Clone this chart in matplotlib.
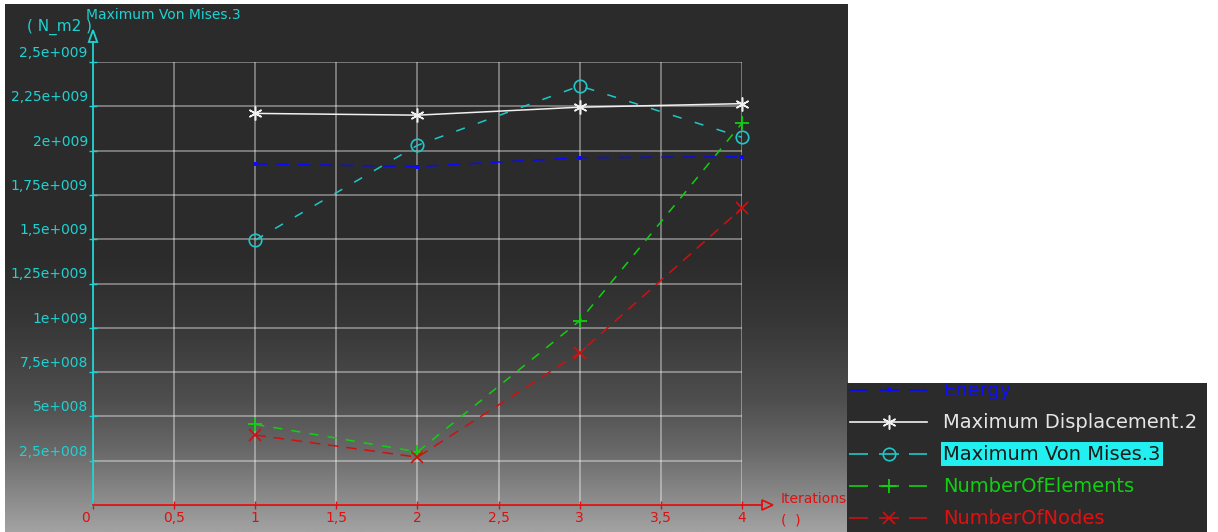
import numpy as np
import matplotlib
matplotlib.use("Agg")
import matplotlib.pyplot as plt
from matplotlib.patches import Polygon, Rectangle
from matplotlib.transforms import ScaledTranslation, blended_transform_factory

# ---- data -------------------------------------------------------------
iterations = [1, 2, 3, 4]
energy = [1.925e9, 1.91e9, 1.96e9, 1.965e9]
max_displacement = [2.21e9, 2.20e9, 2.245e9, 2.265e9]
max_von_mises = [1.495e9, 2.03e9, 2.365e9, 2.075e9]
number_of_elements = [4.55e8, 3.0e8, 1.04e9, 2.155e9]
number_of_nodes = [3.95e8, 2.7e8, 8.6e8, 1.675e9]

series_names = ["Energy", "Maximum Displacement.2", "Maximum Von Mises.3",
                "NumberOfElements", "NumberOfNodes"]
x_ticks = [0, 0.5, 1, 1.5, 2, 2.5, 3, 3.5, 4]
y_ticks = [2.5e8, 5e8, 7.5e8, 1e9, 1.25e9, 1.5e9, 1.75e9, 2e9, 2.25e9, 2.5e9]
y_title = "Maximum Von Mises.3"
y_unit = "( N_m2 )"
x_title = "Iterations"
x_unit = "(  )"

W, H = 1218, 532
fig = plt.figure(figsize=(W / 100, H / 100), dpi=100, facecolor="white")
plt.rcParams["font.family"] = ["DejaVu Sans"]

# ---- background panel with bottom gradient -----------------------------
bg = fig.add_axes([0, 0, 1, 1])
bg.set_xlim(0, W)
bg.set_ylim(H, 0)
bg.axis("off")
rows = np.arange(4, H + 1)
stops_y = [4, 260, 320, 400, 450, 490, 532]
stops_v = [0x2b, 0x2c, 0x36, 0x4e, 0x68, 0x85, 0xa3]
vals = np.interp(rows, stops_y, stops_v) / 255.0
grad = np.repeat(vals[:, None], 2, axis=1)
grad = np.dstack([grad, grad, grad])
bg.imshow(grad, extent=(5, 848, H, 4), aspect="auto", interpolation="bilinear", zorder=0)
bg.add_patch(Rectangle((847, 383), 360, 149, facecolor="#2b2b2b", edgecolor="none", zorder=1))

# ---- main plot --------------------------------------------------------
x0, x1, y0, y1 = 93, 742, 505, 62
ax = fig.add_axes([x0 / W, (H - y0) / H, (x1 - x0) / W, (y0 - y1) / H])
ax.set_facecolor("none")
ax.set_xlim(0, 4)
ax.set_ylim(0, 2.5e9)
for s in ["top", "right"]:
    ax.spines[s].set_visible(False)
ax.spines["left"].set_color("#1ed2d2")
ax.spines["bottom"].set_color("#e01010")
ax.spines["left"].set_linewidth(1.3)
ax.spines["bottom"].set_linewidth(1.3)
ax.set_xticks(x_ticks)
ax.set_yticks([0] + y_ticks)
ax.tick_params(axis="x", colors="#e01010", direction="inout", length=6, width=1, labelbottom=False)
ax.tick_params(axis="y", colors="#1ed2d2", direction="inout", length=6, width=1, labelleft=False)
ax.grid(True, color="white", alpha=0.4, linewidth=1.3)
ax.set_axisbelow(True)

# axis extensions and open arrow heads
ax.plot([4, 4.123], [0, 0], color="#e01010", lw=1.3, clip_on=False)
ax.add_patch(Polygon([[4.123, -0.028e9], [4.19, 0], [4.123, 0.028e9]], closed=True,
                     fill=False, edgecolor="#e01010", lw=1.3, clip_on=False))
ax.plot([0, 0], [2.5e9, 2.613e9], color="#1ed2d2", lw=1.3, clip_on=False)
ax.add_patch(Polygon([[-0.026, 2.613e9], [0, 2.68e9], [0.026, 2.613e9]], closed=True,
                     fill=False, edgecolor="#1ed2d2", lw=1.3, clip_on=False))


def sci_label(v):
    exp = int(np.floor(np.log10(v)))
    mant = v / 10 ** exp
    m = ("%.2f" % mant).rstrip("0").rstrip(".").replace(".", ",")
    return "%se+%03d" % (m, exp)


def dec_label(v):
    return ("%g" % v).replace(".", ",")


ytrans = blended_transform_factory(ax.transAxes, ax.transData)
for v in y_ticks:
    ax.text(-0.008, v, sci_label(v), color="#1ed2d2", fontsize=10, ha="right", va="center",
            transform=ytrans + ScaledTranslation(0, 9 / 100, fig.dpi_scale_trans))

xtrans = blended_transform_factory(ax.transData, ax.transAxes)
for v in x_ticks:
    dx = -8 / 100 if v == 0 else 0
    ax.text(v, 0, dec_label(v), color="#e01010", fontsize=10, ha="center", va="center",
            transform=xtrans + ScaledTranslation(dx, -13 / 100, fig.dpi_scale_trans))

fig.text(86 / W, 1 - 15 / H, y_title, color="#1ed2d2", fontsize=10, ha="left", va="center")
fig.text(92 / W, 1 - 27 / H, y_unit, color="#1ed2d2", fontsize=11, ha="right", va="center")
fig.text(781 / W, 1 - 499 / H, x_title, color="#e01010", fontsize=10, ha="left", va="center")
fig.text(781 / W, 1 - 520 / H, x_unit, color="#e01010", fontsize=10, ha="left", va="center")

# ---- series ------------------------------------------------------------
asterisk = (6, 2, 0)
styles = [
    dict(color="#0a0aff", ls=(0, (8, 6)), marker="s", ms=3.5, mfc="#0a0aff", mew=0),
    dict(color="#f0f0f0", ls="-", marker=asterisk, ms=10, mew=1.1),
    dict(color="#1ec8c8", ls=(0, (6, 9)), marker="o", ms=9, mfc="none", mew=1.2),
    dict(color="#10d010", ls=(0, (6, 6)), marker="+", ms=10, mew=1.3),
    dict(color="#d01010", ls=(0, (7, 5)), marker="x", ms=9, mew=1.2),
]
series = [energy, max_displacement, max_von_mises, number_of_elements, number_of_nodes]
for vals_s, st in zip(series, styles):
    ax.plot(iterations, vals_s, lw=1.1, clip_on=False, zorder=3, **st)

# ---- legend ------------------------------------------------------------
lg = fig.add_axes([847 / W, 0, 360 / W, 149 / H])
lg.set_xlim(0, 360)
lg.set_ylim(149, 0)
lg.axis("off")
text_colors = ["#1010f0", "#e6e6e6", "#1a1a1a", "#10d010", "#e01010"]
for i, (name, st, tc) in enumerate(zip(series_names, styles, text_colors)):
    yc = 7 + 32 * i
    st2 = dict(st)
    mk = st2.pop("marker")
    ms = st2.pop("ms")
    mfc = st2.pop("mfc", None)
    mew = st2.pop("mew")
    if st2["ls"] == "-":
        lg.plot([3, 80], [yc, yc], lw=1.2, color=st2["color"])
    else:
        for a, b in [(2, 21), (32, 52), (62, 80)]:
            lg.plot([a, b], [yc, yc], lw=1.2, color=st2["color"], solid_capstyle="butt")
    lg.plot([42], [yc], marker=mk, ms=ms, mfc=mfc if mfc else st2["color"],
            mec=st2["color"], mew=mew, ls="none")
    kw = {}
    if i == 2:
        kw["bbox"] = dict(boxstyle="square,pad=0.12", fc="#22f0f0", ec="none")
    lg.text(96, yc, name, color=tc, fontsize=14, ha="left", va="center", clip_on=True, **kw)

fig.savefig("out.png", dpi=100, facecolor="white")
